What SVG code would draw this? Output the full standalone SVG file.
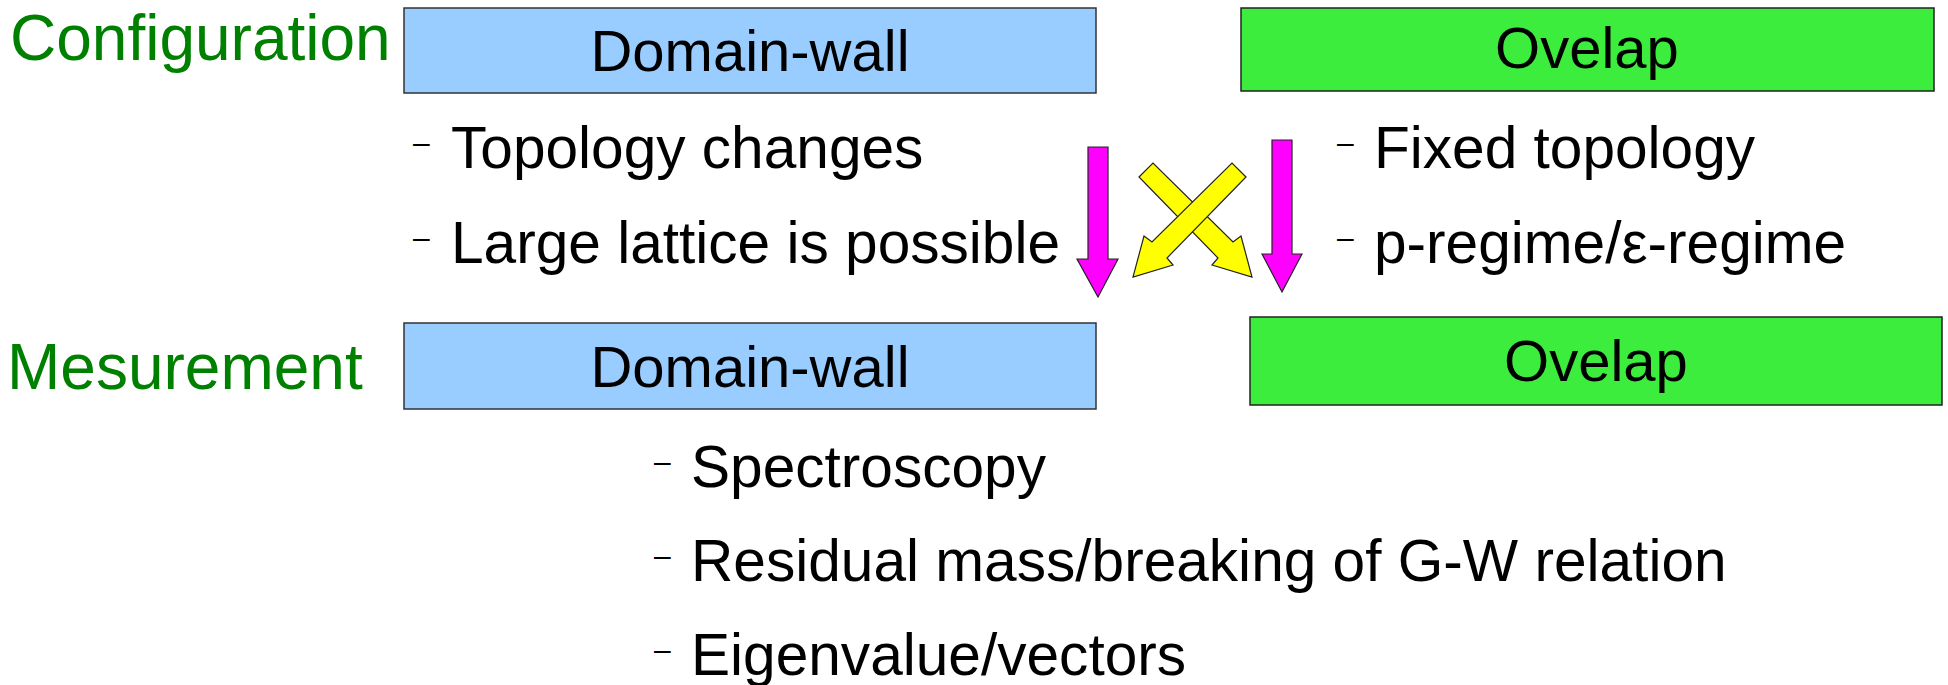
<svg xmlns="http://www.w3.org/2000/svg" width="1948" height="685" viewBox="0 0 1948 685">
<style>
.lbl{font-family:"Liberation Sans",Arial,sans-serif;font-size:64px;fill:#008000}
.bt{font-family:"Liberation Sans",Arial,sans-serif;font-size:58px;fill:#000;text-anchor:middle}
.tx{font-family:"Liberation Sans",Arial,sans-serif;font-size:58.6px;fill:#000}
.dash{font-family:"Liberation Sans",Arial,sans-serif;font-size:30px;fill:#000}
.dw{fill:#99ccff;stroke:#333;stroke-width:1.5}
.ov{fill:#3ded3d;stroke:#222;stroke-width:1.5}
.mag{fill:#ff00ff;stroke:#222;stroke-width:1.2}
.yel{fill:#ffff00;stroke:#222;stroke-width:1.2}
</style>
<g id="label-config"><text class="lbl" x="10" y="60">Configuration</text></g>
<g id="label-mesure"><text class="lbl" x="7" y="389">Mesurement</text></g>
<g id="dw-config"><rect class="dw" x="404" y="8" width="692" height="85"/><text class="bt" x="750" y="71">Domain-wall</text></g>
<g id="ov-config"><rect class="ov" x="1241" y="8" width="693" height="83"/><text class="bt" x="1587" y="68">Ovelap</text></g>
<g id="dw-mesure"><rect class="dw" x="404" y="323" width="692" height="86"/><text class="bt" x="750" y="387">Domain-wall</text></g>
<g id="ov-mesure"><rect class="ov" x="1250" y="317" width="692" height="88"/><text class="bt" x="1596" y="381">Ovelap</text></g>
<g id="dw-notes">
<text class="dash" x="413" y="153">–</text><text class="tx" x="451" y="168">Topology changes</text>
<text class="dash" x="413" y="248">–</text><text class="tx" x="451" y="263">Large lattice is possible</text>
</g>
<g id="ov-notes">
<text class="dash" x="1337" y="153">–</text><text class="tx" x="1374" y="168">Fixed topology</text>
<text class="dash" x="1337" y="248">–</text><text class="tx" x="1374" y="263">p-regime/ε-regime</text>
</g>
<g id="mesure-notes">
<text class="dash" x="654" y="472">–</text><text class="tx" x="691" y="487">Spectroscopy</text>
<text class="dash" x="654" y="566">–</text><text class="tx" x="691" y="581">Residual mass/breaking of G-W relation</text>
<text class="dash" x="654" y="660">–</text><text class="tx" x="691" y="675">Eigenvalue/vectors</text>
</g>
<g id="connectors">
<polygon class="mag" points="1088,147 1108,147 1108,259 1118,259 1098,297 1077,259 1088,259"/>
<polygon class="mag" points="1272,140 1292,140 1292,254 1302,254 1282,292 1262,254 1272,254"/>
<polygon class="yel" points="1139,177 1153,163 1233,242 1241,236 1252,277 1212,265 1218,258"/>
<polygon class="yel" points="1246,177 1232,163 1152,242 1144,236 1133,277 1173,265 1167,258"/>
</g>
</svg>
